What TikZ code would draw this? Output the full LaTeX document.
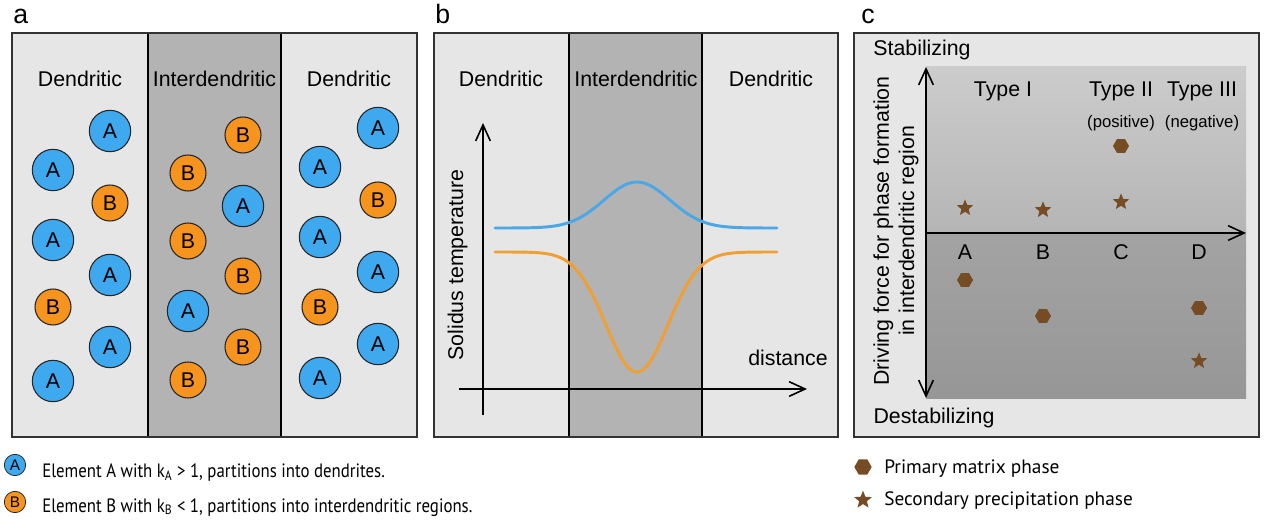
\documentclass[tikz,border=0pt]{standalone}
\usepackage{fontspec}
\setmainfont{Liberation Sans}
\newfontfamily\legendfont{PT Sans}
\newfontfamily\legendnarrow[FakeStretch=0.87]{PT Sans}
\usetikzlibrary{arrows.meta,shapes.geometric}
\definecolor{elemblue}{RGB}{63,169,240}
\definecolor{elemorange}{RGB}{247,148,30}
\definecolor{curveblue}{RGB}{75,167,230}
\definecolor{curveorange}{RGB}{240,160,50}
\definecolor{phasebrown}{RGB}{117,76,36}
\definecolor{dendgray}{RGB}{230,230,230}
\definecolor{intergray}{RGB}{179,179,179}

\begin{document}
\begin{tikzpicture}[x=0.75pt, y=-0.75pt,
                    panelbox/.style={draw=black!80, line width=1.1pt},
                    divline/.style={draw=black, line width=0.8pt},
                    headlab/.style={font=\fontsize{16}{19}\selectfont, anchor=base, inner sep=0},
                    smalllab/.style={font=\fontsize{12.5}{15}\selectfont, anchor=base, inner sep=0},
                    panellab/.style={font=\fontsize{20}{24}\selectfont, anchor=base west, inner sep=0},
                    atomA/.style={circle, draw=black!85, line width=0.8pt, fill=elemblue,
                    minimum size=31pt, inner sep=0, font=\fontsize{16}{16}\selectfont},
                    atomB/.style={circle, draw=black!85, line width=0.8pt, fill=elemorange,
                    minimum size=27pt, inner sep=0, font=\fontsize{16}{16}\selectfont},
                    keyA/.style={atomA, minimum size=16pt, line width=0.6pt, font=\fontsize{11.5}{11.5}\selectfont},
                    keyB/.style={atomB, minimum size=16pt, line width=0.6pt, font=\fontsize{11.5}{11.5}\selectfont},
                    hexphase/.style={regular polygon, regular polygon sides=6, fill=phasebrown,
                    minimum size=12pt, inner sep=0},
                    starphase/.style={star, star points=5, star point ratio=2.3, fill=phasebrown,
                    minimum size=13pt, inner sep=0},
                    axisarr/.style={-{Straight Barb[length=12pt, width=11pt]}, line width=1.2pt},
                    bothaxisarr/.style={{Straight Barb[length=12pt, width=11pt]}-{Straight Barb[length=12pt, width=11pt]}, line width=1.2pt},
                    tcurve/.style={line width=2.2pt, line cap=round},
                    legtext/.style={font=\legendfont\fontsize{14.5}{17}\selectfont, anchor=base west, inner sep=0}]

                    \useasboundingbox (0,0) rectangle (1266,520);

                    % panel a
                    \node[panellab] (laba) at (13,24) {a};
                    \fill[dendgray] (12,33) rectangle (417,437);
                    \fill[intergray] (148,33) rectangle (281,437);
                    \draw[divline] (148,33) -- (148,437);
                    \draw[divline] (281,33) -- (281,437);
                    \draw[panelbox] (12,33) rectangle (417,437);
                    \node[headlab] (adend1) at (80,87) {Dendritic};
                    \node[headlab] (ainter) at (214.5,87) {Interdendritic};
                    \node[headlab] (adend2) at (349,87) {Dendritic};

                    \node[atomA] (al1) at (110,131) {A};
                    \node[atomA] (al2) at (53,170) {A};
                    \node[atomB] (al3) at (110,203) {B};
                    \node[atomA] (al4) at (53,240) {A};
                    \node[atomA] (al5) at (110,275) {A};
                    \node[atomB] (al6) at (53,307) {B};
                    \node[atomA] (al7) at (110,347) {A};
                    \node[atomA] (al8) at (53,381) {A};

                    \node[atomB] (am1) at (243,135) {B};
                    \node[atomB] (am2) at (188,173) {B};
                    \node[atomA] (am3) at (243,206) {A};
                    \node[atomB] (am4) at (188,241) {B};
                    \node[atomB] (am5) at (243,276) {B};
                    \node[atomA] (am6) at (188,311) {A};
                    \node[atomB] (am7) at (243,347) {B};
                    \node[atomB] (am8) at (188,380) {B};

                    \node[atomA] (ar1) at (378,128) {A};
                    \node[atomA] (ar2) at (320,167) {A};
                    \node[atomB] (ar3) at (378,200) {B};
                    \node[atomA] (ar4) at (320,237) {A};
                    \node[atomA] (ar5) at (378,272) {A};
                    \node[atomB] (ar6) at (320,307) {B};
                    \node[atomA] (ar7) at (378,344) {A};
                    \node[atomA] (ar8) at (320,378) {A};

                    % panel b
                    \node[panellab] (labb) at (435,24) {b};
                    \fill[dendgray] (434,33) rectangle (838,437);
                    \fill[intergray] (569,33) rectangle (702,437);
                    \draw[divline] (569,33) -- (569,437);
                    \draw[divline] (702,33) -- (702,437);
                    \draw[panelbox] (434,33) rectangle (838,437);
                    \node[headlab] (bdend1) at (501,87) {Dendritic};
                    \node[headlab] (binter) at (636,87) {Interdendritic};
                    \node[headlab] (bdend2) at (771,87) {Dendritic};

                    \coordinate (byfoot) at (483,415);
                    \coordinate (bytip) at (483,123);
                    \coordinate (bxfoot) at (459,389);
                    \coordinate (bxtip) at (807,389);
                    \draw[axisarr] (byfoot) -- (bytip);
                    \draw[axisarr] (bxfoot) -- (bxtip);
                    \node[headlab, rotate=90] (bylab) at (463,265) {Solidus temperature};
                    \node[headlab] (bxlab) at (788,365) {distance};

                    \draw[tcurve, curveblue] plot[domain=495:777, samples=120, smooth]
                    (\x, {228-46*exp(-((\x-637)/33)^2/2)});
                    \draw[tcurve, curveorange] plot[domain=495:777, samples=120, smooth]
                    (\x, {252+120*exp(-((\x-637)/31)^2/2)});

                    % panel c
                    \node[panellab] (labc) at (861,24) {c};
                    \fill[dendgray] (854,33) rectangle (1259,437);
                    \shade[top color=black!20, bottom color=black!29] (926,67) rectangle (1246,233);
                    \shade[top color=black!36, bottom color=black!41] (926,233) rectangle (1246,398);
                    \draw[panelbox] (854,33) rectangle (1259,437);

                    \coordinate (cytop) at (926,67);
                    \coordinate (cybot) at (926,398);
                    \coordinate (cxfoot) at (926,233);
                    \coordinate (cxtip) at (1246,233);
                    \draw[bothaxisarr] (cybot) -- (cytop);
                    \draw[axisarr] (cxfoot) -- (cxtip);

                    \node[headlab] (cstab) at (922,56) {Stabilizing};
                    \node[headlab] (cdestab) at (934,423) {Destabilizing};
                    \node[font=\fontsize{16}{19}\selectfont, align=center, rotate=90, inner sep=0] (cylab) at (896,231)
                    {Driving force for phase formation\\in interdendritic region};

                    \node[headlab] (ctype1) at (1003,97) {Type I};
                    \node[headlab] (ctype2) at (1121,97) {Type II};
                    \node[headlab] (ctype3) at (1202,97) {Type III};
                    \node[smalllab] (cpos) at (1121,128) {(positive)};
                    \node[smalllab] (cneg) at (1202,128) {(negative)};

                    \node[headlab] (cA) at (965,259) {A};
                    \node[headlab] (cB) at (1043,259) {B};
                    \node[headlab] (cC) at (1121,259) {C};
                    \node[headlab] (cD) at (1199,259) {D};

                    \node[hexphase] (hexA) at (965,280) {};
                    \node[hexphase] (hexB) at (1043,316) {};
                    \node[hexphase] (hexC) at (1121,146) {};
                    \node[hexphase] (hexD) at (1199,308) {};
                    \node[starphase] (starA) at (965,208) {};
                    \node[starphase] (starB) at (1043,210) {};
                    \node[starphase] (starC) at (1121,202) {};
                    \node[starphase] (starD) at (1199,361) {};

                    % legends
                    \node[keyA] (keyelA) at (15,465) {A};
                    \node[legtext, font=\legendnarrow\fontsize{14.5}{17}\selectfont] (txtelA) at (42,477)
                    {Element A with k\textsubscript{A} > 1, partitions into dendrites.};
                    \node[keyB] (keyelB) at (15,502) {B};
                    \node[legtext, font=\legendnarrow\fontsize{14.5}{17}\selectfont] (txtelB) at (42,512)
                    {Element B with k\textsubscript{B} < 1, partitions into interdendritic regions.};

                    \node[hexphase, minimum size=13pt] (keyhex) at (863,467) {};
                    \node[legtext] (txthex) at (884,473) {Primary matrix phase};
                    \node[starphase, minimum size=14pt] (keystar) at (863,500) {};
                    \node[legtext] (txtstar) at (884,505) {Secondary precipitation phase};
                    \end{tikzpicture}
\end{document}
